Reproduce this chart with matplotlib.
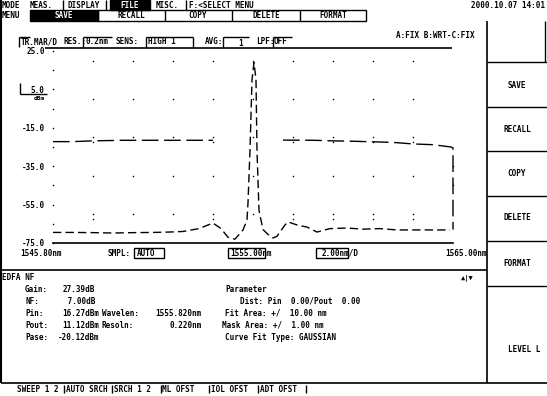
import numpy as np
import matplotlib
matplotlib.use("Agg")
import matplotlib.pyplot as plt
from matplotlib.patches import Rectangle

# trace (nm, dBm)
trace_wl = [1545.0, 1546.0, 1547.0, 1548.0, 1549.0, 1550.0, 1550.8, 1551.5, 1552.3, 1553.0,
            1553.4, 1553.75, 1554.1, 1554.5, 1554.7, 1554.75, 1554.85, 1554.95, 1555.05,
            1555.15, 1555.2, 1555.3, 1555.5, 1555.75, 1556.0, 1556.2, 1556.6, 1556.75,
            1557.2, 1557.7, 1558.2, 1558.85, 1559.7, 1560.5, 1561.35, 1562.2, 1563.0,
            1563.85, 1564.85]
trace_db = [-69.5, -69.5, -69.6, -69.8, -69.6, -69.5, -69.3, -69.0, -67.5, -64.6,
            -67.5, -72.0, -73.0, -68.2, -63.0, -54.0, -26.6, 10.0, 19.0,
            10.0, -27.0, -58.0, -68.0, -70.5, -72.4, -71.5, -65.6, -64.0,
            -65.6, -66.7, -69.3, -67.5, -67.2, -67.8, -67.5, -68.2, -68.2,
            -68.2, -68.2]

# flat upper line (two pieces, gap around the peak)
flat_left_wl = [1545.0, 1546.0, 1547.0, 1548.5, 1550.0, 1551.5, 1553.0]
flat_left_db = [-22.2, -22.2, -21.8, -21.5, -21.5, -21.5, -21.5]
flat_right_wl = [1556.5, 1558.0, 1559.0, 1560.0, 1561.0, 1562.0, 1563.0, 1564.0, 1564.9, 1565.0, 1565.0]
flat_right_db = [-21.4, -21.5, -21.8, -22.0, -22.3, -22.6, -23.4, -23.8, -25.0, -25.5, -68.0]

ylabels = ["25.0", "5.0", "-15.0", "-35.0", "-55.0", "-75.0"]
ylevels = [25, 5, -15, -35, -55, -75]

FONT = "DejaVu Sans Mono"
FS = 5.5


def main():
    fig = plt.figure(figsize=(5.47, 3.96), dpi=100)
    fig.patch.set_facecolor("white")

    # screen chrome in pixel coordinates
    ui = fig.add_axes([0, 0, 1, 1])
    ui.set_xlim(0, 547)
    ui.set_ylim(396, 0)
    ui.axis("off")

    def t(x, y, s, ha="left", color="black", size=FS):
        ui.text(x, y, s, fontsize=size, family=FONT, weight="bold", ha=ha, va="center",
                color=color)

    def ln(xs, ys, lw=1.0):
        ui.plot(xs, ys, color="black", lw=lw, solid_capstyle="butt")

    # row 1
    t(2, 5, "MODE")
    t(30, 5, "MEAS.")
    for x in [63, 106, 186]:
        ln([x, x], [0, 10])
    t(68, 5, "DISPLAY")
    ui.add_patch(Rectangle((110, 0), 40, 10, color="black"))
    t(130, 5, "FILE", ha="center", color="white")
    t(156, 5, "MISC.")
    t(189, 5, "F:<SELECT MENU")
    t(545, 5, "2000.10.07 14:01", ha="right")

    # row 2 menu
    t(2, 15, "MENU")
    ui.add_patch(Rectangle((30, 10), 68, 11, color="black"))
    t(64, 15.5, "SAVE", ha="center", color="white")
    ui.add_patch(Rectangle((98, 10), 268, 11, fill=False, ec="black", lw=1))
    for x in [165, 232, 300]:
        ln([x, x], [10, 21])
    for cx, s in [(131, "RECALL"), (198, "COPY"), (266, "DELETE"), (333, "FORMAT")]:
        t(cx, 15.5, s, ha="center")

    # left border
    ln([1, 1], [0, 383], lw=1.5)

    # parameter row
    ln([19, 19], [37, 47])
    ln([19, 30], [37, 37])
    t(21, 42, "TR.MAR/D")
    t(63, 42, "RES.:")
    ln([83, 83], [37, 47]); ln([83, 112], [37, 37])
    t(86, 42, "0.2nm")
    t(116, 42, "SENS:")
    ln([146, 146], [37, 47]); ln([146, 193], [37, 37]); ln([193, 193], [37, 47])
    t(148, 42, "HIGH 1")
    t(205, 42, "AVG:")
    ln([223, 223], [37, 47]); ln([223, 249], [37, 37])
    t(238, 43, "1")
    t(256, 42, "LPF:")
    ln([273, 273], [37, 47]); ln([273, 292], [37, 37])
    t(274, 42, "OFF")
    t(396, 36, "A:FIX B:WRT-C:FIX")
    ln([45, 452], [47.5, 47.5], lw=1.2)

    # ref level box and unit
    ln([20, 20], [83, 94])
    ln([20, 47], [94, 94])
    t(45, 99, "dBm", ha="right", size=4.5)

    # below plot
    t(20, 253, "1545.80nm")
    t(108, 253, "SMPL:")
    ui.add_patch(Rectangle((134, 248), 30, 10, fill=False, ec="black", lw=1))
    t(137, 253, "AUTO")
    ui.add_patch(Rectangle((228, 248), 37, 10, fill=False, ec="black", lw=1))
    t(230, 253, "1555.00nm")
    ui.add_patch(Rectangle((316, 248), 32, 10, fill=False, ec="black", lw=1))
    t(322, 253, "2.00nm/D")
    t(487, 253, "1565.00nm", ha="right")

    ln([1, 487], [270, 270], lw=1.2)

    # info panel
    t(2, 277, "EDFA NF")
    rows = [289, 301, 313, 325, 337]
    for y, lab in zip(rows, ["Gain:", "NF:", "Pin:", "Pout:", "Pase:"]):
        t(25, y, lab)
    t(63, 289, "27.39dB")
    t(63, 301, " 7.00dB")
    t(62, 313, "16.27dBm")
    t(62, 325, "11.12dBm")
    t(58, 337, "-20.12dBm")
    t(102, 313, "Wavelen:")
    t(202, 313, "1555.820nm", ha="right")
    t(102, 325, "Resoln:")
    t(202, 325, "0.220nm", ha="right")
    t(225, 289, "Parameter")
    t(240, 301, "Dist: Pin  0.00/Pout  0.00")
    t(225, 313, "Fit Area: +/  10.00 nm")
    t(222, 325, "Mask Area: +/  1.00 nm")
    t(225, 337, "Curve Fit Type: GAUSSIAN")
    t(461, 279, "\u25b2|\u25bc", size=5)

    # right soft keys
    ln([487, 487], [21, 383], lw=1.2)
    for y in [62, 107, 151, 196, 241, 286]:
        ln([487, 547], [y, y])
    ln([545, 545], [21, 62])
    for cy, s in [(85, "SAVE"), (129, "RECALL"), (173, "COPY"), (218, "DELETE"), (263, "FORMAT")]:
        t(517, cy, s, ha="center")
    t(540, 350, "LEVEL L", ha="right")

    # bottom soft key row
    ln([1, 547], [383, 383], lw=1.2)
    keys = ["SWEEP 1 2", "AUTO SRCH", "SRCH 1 2", "ML OFST", "IOL OFST", "ADT OFST"]
    for i, k in enumerate(keys):
        x0 = 15 + 48.5 * i
        t(x0 + 2, 389, k)
        ln([x0 + 48.5, x0 + 48.5], [385, 393])

    # spectrum area
    ax = fig.add_axes([53 / 547, 1 - 243 / 396, 400 / 547, 192 / 396])
    ax.set_xlim(1545, 1565)
    ax.set_ylim(-75, 25)
    ax.patch.set_alpha(0)
    for side in ["top", "left", "right"]:
        ax.spines[side].set_visible(False)
    ax.spines["bottom"].set_linewidth(1.2)
    ax.set_xticks([])
    ax.set_yticks(ylevels)
    ax.set_yticklabels(ylabels, family=FONT, fontsize=FS, weight="bold")
    ax.tick_params(axis="y", length=0, pad=6)

    # grid dots
    gx = np.arange(1547, 1565, 2)
    gy = [20, 0, -20, -40, -60]
    GX, GY = np.meshgrid(gx, gy)
    ax.scatter(GX.ravel(), GY.ravel(), s=1.2, color="black", lw=0)
    colon_x = [1547, 1553, 1557, 1559, 1561, 1563]
    for yy in [-20, -60]:
        ax.scatter(colon_x, [yy - 2.5] * len(colon_x), s=1.2, color="black", lw=0)
    ax.scatter([1545] * 11, np.arange(25, -76, -10), s=1.2, color="black", lw=0, clip_on=False)
    ax.scatter([1565, 1565], [-35, -45], s=1.2, color="black", lw=0, clip_on=False)

    ax.plot(trace_wl, trace_db, color="black", lw=1.0, ls=(0, (6, 3)), clip_on=False)
    ax.plot(flat_left_wl, flat_left_db, color="black", lw=1.0, ls=(0, (12, 4)))
    ax.plot(flat_right_wl, flat_right_db, color="black", lw=1.0, ls=(0, (12, 4)), clip_on=False)

    fig.savefig("out.png", dpi=100, facecolor="white")


if __name__ == "__main__":
    main()
